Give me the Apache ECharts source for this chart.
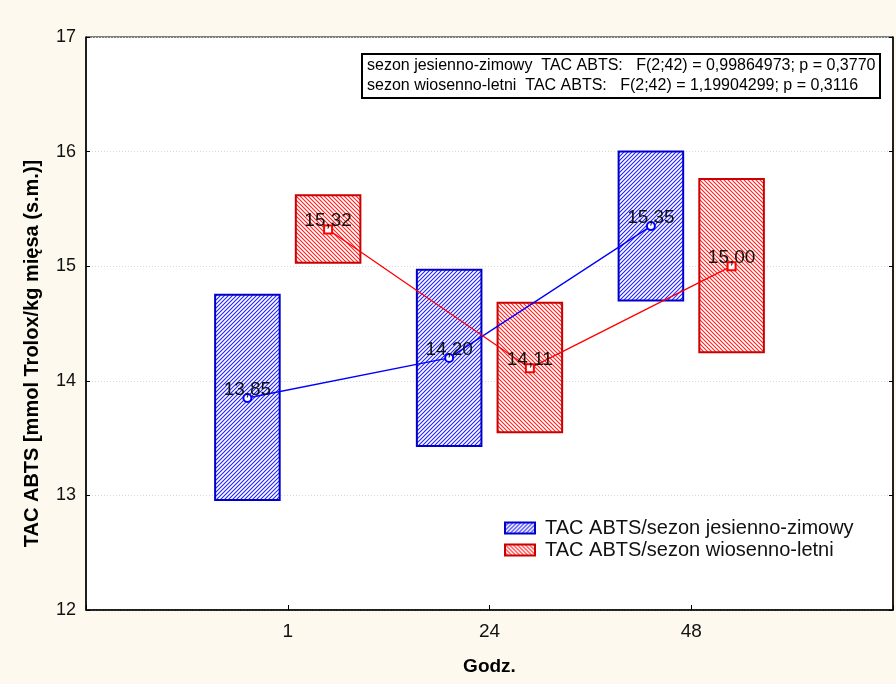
<!DOCTYPE html>
<html>
<head>
<meta charset="utf-8">
<script src="https://cdn.jsdelivr.net/npm/echarts@6/dist/echarts.min.js"></script>
<style>html,body{margin:0;padding:0;background:#FDF9EE;}#chart{width:896px;height:684px;}</style>
</head>
<body>
<div id="chart"></div>
<script>
// ---- data ----
const categories = ['1', '24', '48'];
const seriesNames = ['TAC ABTS/sezon jesienno-zimowy', 'TAC ABTS/sezon wiosenno-letni'];
const blueMean = [13.85, 14.20, 15.35];
const blueHigh = [14.75, 14.97, 16.00];
const blueLow  = [12.96, 13.43, 14.70];
const redMean  = [15.32, 14.11, 15.00];
const redHigh  = [15.62, 14.68, 15.76];
const redLow   = [15.03, 13.55, 14.25];
const yTicks = [12, 13, 14, 15, 16, 17];
const statsLines = [
  'sezon jesienno-zimowy  TAC ABTS:   F(2;42) = 0,99864973; p = 0,3770',
  'sezon wiosenno-letni  TAC ABTS:   F(2;42) = 1,19904299; p = 0,3116'
];

// ---- styling helpers ----
const FONT = '"Liberation Sans", Arial, sans-serif';
const OFFSET = 0.2, HALF_W = 0.16;

function hatch(color, forward) {
  const c = document.createElement('canvas');
  c.width = 4; c.height = 4;
  const g = c.getContext('2d');
  g.fillStyle = '#fff'; g.fillRect(0, 0, 4, 4);
  g.strokeStyle = color; g.lineWidth = 1.1;
  g.beginPath();
  if (forward) {
    g.moveTo(-1, 5); g.lineTo(5, -1);
    g.moveTo(-1, 1); g.lineTo(1, -1);
    g.moveTo(3, 5); g.lineTo(5, 3);
  } else {
    g.moveTo(-1, -1); g.lineTo(5, 5);
    g.moveTo(3, -1); g.lineTo(5, 1);
    g.moveTo(-1, 3); g.lineTo(1, 5);
  }
  g.stroke();
  return { image: c, repeat: 'repeat' };
}
const bluePat = hatch('#2222ff', true);
const redPat = hatch('#ff2020', false);

function boxData(high, low, off) {
  return high.map((h, i) => [i + 1 + off, low[i], h]);
}
function meanData(mean, off) {
  return mean.map((m, i) => [i + 1 + off, m]);
}
function boxSeries(name, high, low, off, pat, stroke) {
  return {
    type: 'custom', name: name,
    data: boxData(high, low, off),
    itemStyle: { color: pat, borderColor: stroke, borderWidth: 2 },
    z: 2,
    renderItem: function (params, api) {
      const x = api.value(0), lo = api.value(1), hi = api.value(2);
      const p1 = api.coord([x - HALF_W, hi]);
      const p2 = api.coord([x + HALF_W, lo]);
      return {
        type: 'rect',
        shape: { x: p1[0], y: p1[1], width: p2[0] - p1[0], height: p2[1] - p1[1] },
        style: { fill: pat, stroke: stroke, lineWidth: 2 }
      };
    }
  };
}
function meanSeries(name, mean, off, color, symbol) {
  return {
    type: 'line', name: name,
    data: meanData(mean, off),
    symbol: symbol, symbolSize: 8,
    lineStyle: { color: color, width: 1.3 },
    itemStyle: { color: color, borderColor: color, borderWidth: 1.2 },
    z: 5,
    label: {
      show: true, position: 'top', distance: -6,
      formatter: p => p.value[1].toFixed(2).replace('.', ','),
      color: '#111', fontSize: 19, fontFamily: FONT
    }
  };
}

const chart = echarts.init(document.getElementById('chart'));
chart.setOption({
  backgroundColor: '#FDF9EE',
  animation: false,
  title: {
    text: statsLines.join('\n'),
    left: 362, top: 54,
    backgroundColor: '#fff', borderColor: '#000', borderWidth: 2,
    padding: [2, 5, 2, 5],
    textStyle: { fontSize: 16, fontWeight: 'normal', fontFamily: FONT, color: '#000', lineHeight: 20 }
  },
  grid: { left: 86, top: 37, right: 1, bottom: 74, show: true, backgroundColor: '#fff', borderColor: '#000', borderWidth: 1 },
  legend: {
    data: seriesNames,
    orient: 'vertical', left: 499, top: 513,
    itemWidth: 30, itemHeight: 11, itemGap: 2,
    icon: 'rect',
    textStyle: { fontSize: 20, fontFamily: FONT, color: '#111', padding: [0, 0, 0, 5] }
  },
  xAxis: {
    type: 'value', min: 0, max: 4, interval: 1,
    name: 'Godz.', nameLocation: 'middle', nameGap: 47,
    nameTextStyle: { fontSize: 19, fontWeight: 'bold', fontFamily: FONT, color: '#000' },
    axisLine: { lineStyle: { color: '#000', width: 1.5 } },
    axisTick: { inside: true, length: 5, lineStyle: { color: '#000' } },
    axisLabel: { fontSize: 19, fontFamily: FONT, color: '#111', margin: 12,
      formatter: v => (v >= 1 && v <= categories.length) ? categories[v - 1] : '' },
    splitLine: { show: false }
  },
  yAxis: [{
    type: 'value', min: yTicks[0], max: yTicks[yTicks.length - 1], interval: 1,
    name: 'TAC ABTS [mmol Trolox/kg mięsa (s.m.)]', nameLocation: 'middle', nameGap: 44,
    nameTextStyle: { fontSize: 20, fontWeight: 'bold', fontFamily: FONT, color: '#000', padding: [0, 60, 0, 0] },
    axisLine: { show: true, lineStyle: { color: '#000', width: 1.5 } },
    axisTick: { show: true, inside: true, length: 4, lineStyle: { color: '#000' } },
    axisLabel: { fontSize: 18, fontFamily: FONT, color: '#111', margin: 10 },
    splitLine: { show: true, lineStyle: { color: '#d8d8d8', type: [1, 2], width: 1 } }
  }, {
    type: 'value', min: yTicks[0], max: yTicks[yTicks.length - 1], interval: 1, position: 'right',
    axisLine: { show: true, lineStyle: { color: '#000', width: 1.5 } },
    axisTick: { show: true, inside: true, length: 4, lineStyle: { color: '#000' } },
    axisLabel: { show: false }, splitLine: { show: false }
  }],
  series: [
    boxSeries(seriesNames[0], blueHigh, blueLow, -OFFSET, bluePat, '#0000cc'),
    boxSeries(seriesNames[1], redHigh, redLow, OFFSET, redPat, '#cc0000'),
    meanSeries('mean1', blueMean, -OFFSET, '#0000ff', 'emptyCircle'),
    meanSeries('mean2', redMean, OFFSET, '#ff0000', 'emptyRect')
  ]
});
</script>
</body>
</html>
